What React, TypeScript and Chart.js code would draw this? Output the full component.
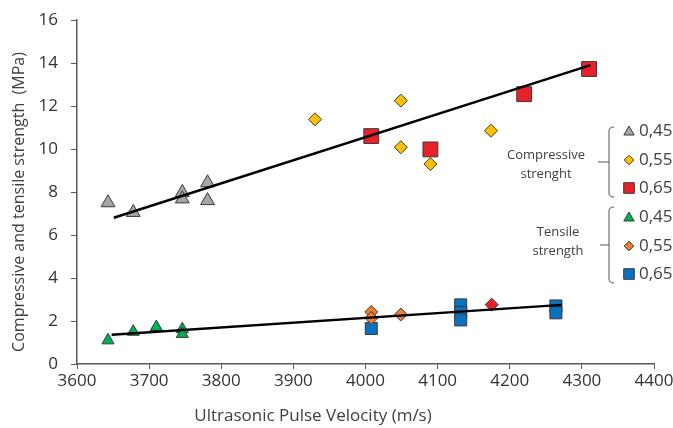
import { useEffect, useRef } from "react";
import { Chart, registerables } from "chart.js";
import { drawPoint } from "chart.js/helpers";

Chart.register(...registerables);

// ---- data ----
const compGrayX = [3643, 3678, 3746, 3746, 3781, 3781];
const compGrayY = [7.5, 7.05, 7.98, 7.68, 8.43, 7.6];
const compYellowX = [3930, 4049, 4049, 4090, 4174];
const compYellowY = [11.38, 12.25, 10.08, 9.3, 10.85];
const compRedX = [4008, 4090, 4220, 4310];
const compRedY = [10.6, 9.98, 12.55, 13.72];

const tensGreenX = [3643, 3678, 3710, 3746, 3746];
const tensGreenY = [1.1, 1.5, 1.72, 1.62, 1.4];
const tensOrangeX = [4008, 4008, 4049];
const tensOrangeY = [2.42, 2.14, 2.3];
const tensRedX = [4175];
const tensRedY = [2.76];
const tensBlueX = [4008, 4132, 4132, 4132, 4264, 4264];
const tensBlueY = [1.65, 2.75, 2.4, 2.05, 2.7, 2.38];

const compTrendX = [3651, 4312];
const compTrendY = [6.8, 13.9];
const tensTrendX = [3648, 4272];
const tensTrendY = [1.36, 2.75];

const xMin = 3600;
const xMax = 4400;
const xStep = 100;
const yMin = 0;
const yMax = 16;
const yStep = 2;

const xTitle = "Ultrasonic Pulse Velocity (m/s)";
const yTitle = "Compressive and tensile strength  (MPa)";
const groupLabels = [["Compressive", "strenght"], ["Tensile", "strength"]];
const legendLabels = ["0,45", "0,55", "0,65"];

const zip = (xs: number[], ys: number[]) => xs.map((x, i) => ({ x, y: ys[i] }));

const EDGE = "#3a3a3a";
const C_GRAY = "#a6a6a6";
const C_YELLOW = "#ffc000";
const C_RED = "#e8202a";
const C_GREEN = "#00b050";
const C_ORANGE = "#ed7d31";
const C_BLUE = "#0a70c0";
const TEXT = "#404040";
const AXIS = "#595959";
const FONT = '"Open Sans", sans-serif';

const legendGroups = [
  [
    { style: "triangle", color: C_GRAY, r: 6 },
    { style: "rectRot", color: C_YELLOW, r: 4.8 },
    { style: "rect", color: C_RED, r: 7.5 },
  ],
  [
    { style: "triangle", color: C_GREEN, r: 6 },
    { style: "rectRot", color: C_ORANGE, r: 4.8 },
    { style: "rect", color: C_BLUE, r: 7.5 },
  ],
];

const customPlugin = {
  id: "customDecor",
  afterDraw(chart: any) {
    const ctx = chart.ctx as CanvasRenderingContext2D;
    ctx.save();
    // axis titles
    ctx.fillStyle = TEXT;
    ctx.textAlign = "center";
    ctx.textBaseline = "middle";
    ctx.font = `17px ${FONT}`;
    ctx.fillText(xTitle, 313, 416);
    ctx.save();
    ctx.translate(19, 202);
    ctx.rotate(-Math.PI / 2);
    ctx.font = `16px ${FONT}`;
    ctx.fillText(yTitle, 0, 0);
    ctx.restore();

    // legend groups
    const groups = [
      { top: 127, bottom: 197, mid: 162, labelX: 546, labelY: [155, 174], rows: [131, 160, 188], tickX: 598 },
      { top: 207, bottom: 283, mid: 245, labelX: 558, labelY: [232, 251], rows: [217, 246, 274], tickX: 600 },
    ];
    const bx = 609;
    groups.forEach((g, gi) => {
      ctx.strokeStyle = "#555";
      ctx.lineWidth = 1;
      ctx.beginPath();
      ctx.moveTo(bx + 5, g.top);
      ctx.quadraticCurveTo(bx, g.top, bx, g.top + 4);
      ctx.lineTo(bx, g.bottom - 4);
      ctx.quadraticCurveTo(bx, g.bottom, bx + 5, g.bottom);
      ctx.moveTo(bx, g.mid);
      ctx.lineTo(g.tickX, g.mid);
      ctx.stroke();

      ctx.fillStyle = TEXT;
      ctx.font = `13px ${FONT}`;
      ctx.textAlign = "center";
      ctx.textBaseline = "middle";
      groupLabels[gi].forEach((t, i) => ctx.fillText(t, g.labelX, g.labelY[i]));

      legendGroups[gi].forEach((m, i) => {
        ctx.fillStyle = m.color;
        ctx.strokeStyle = EDGE;
        ctx.lineWidth = 1;
        drawPoint(ctx, { pointStyle: m.style as any, radius: m.r, rotation: 0, borderWidth: 1 }, 629, g.rows[i] + (m.style === "triangle" ? 1 : 0));
        ctx.fillStyle = TEXT;
        ctx.font = `17px ${FONT}`;
        ctx.textAlign = "left";
        ctx.fillText(legendLabels[i], 639, g.rows[i]);
      });
    });
    ctx.restore();
  },
};

export default function App() {
  const ref = useRef<HTMLCanvasElement | null>(null);
  useEffect(() => {
    document.body.style.margin = "0";
    const canvas = ref.current!;
    const pt = (style: string, color: string, r: number) => ({
      pointStyle: style,
      pointRadius: r,
      pointHoverRadius: r,
      backgroundColor: color,
      borderColor: EDGE,
      borderWidth: 1,
      showLine: false,
    });
    const trend = { showLine: true, pointRadius: 0, borderColor: "#000", borderWidth: 2.5, backgroundColor: "#000", fill: false };
    const chart = new Chart(canvas, {
      type: "scatter",
      data: {
        datasets: [
          { label: "trend c", data: zip(compTrendX, compTrendY), ...trend } as any,
          { label: "trend t", data: zip(tensTrendX, tensTrendY), ...trend } as any,
          { label: "C 0,45", data: zip(compGrayX, compGrayY), ...pt("triangle", C_GRAY, 8) },
          { label: "C 0,55", data: zip(compYellowX, compYellowY), ...pt("rectRot", C_YELLOW, 6.5) },
          { label: "C 0,65", data: zip(compRedX, compRedY), ...pt("rect", C_RED, 10.5) },
          { label: "T 0,45", data: zip(tensGreenX, tensGreenY), ...pt("triangle", C_GREEN, 7) },
          { label: "T 0,55", data: zip(tensOrangeX, tensOrangeY), ...pt("rectRot", C_ORANGE, 6.5) },
          { label: "T 0,55 r", data: zip(tensRedX, tensRedY), ...pt("rectRot", C_RED, 6.5) },
          { label: "T 0,65", data: zip(tensBlueX, tensBlueY), ...pt("rect", C_BLUE, 8.5) },
        ],
      },
      options: {
        animation: false,
        responsive: false,
        maintainAspectRatio: false,
        layout: { padding: { top: 20, right: 19, left: 0, bottom: 0 } },
        plugins: { legend: { display: false }, tooltip: { enabled: false } },
        scales: {
          x: {
            type: "linear",
            min: xMin,
            max: xMax,
            ticks: { stepSize: xStep, color: "#333", font: { family: FONT, size: 17 }, padding: 2, maxRotation: 0, callback: (v: any) => String(v) },
            grid: { display: true, drawOnChartArea: false, drawTicks: true, tickLength: 5, color: AXIS },
            border: { display: true, color: AXIS, width: 1.5 },
            afterFit: (s: any) => {
              s.height = 64;
              s.paddingLeft = 0;
              s.paddingRight = 0;
            },
          },
          y: {
            min: yMin,
            max: yMax,
            ticks: { stepSize: yStep, color: "#333", font: { family: FONT, size: 17 }, padding: 13, callback: (v: any) => String(v) },
            grid: { display: true, drawOnChartArea: false, drawTicks: true, tickLength: 6, color: AXIS },
            border: { display: true, color: AXIS, width: 1.5 },
            afterFit: (s: any) => {
              s.width = 77;
              s.paddingTop = 0;
              s.paddingBottom = 0;
            },
          },
        },
      },
      plugins: [customPlugin],
    });
    return () => chart.destroy();
  }, []);
  return <canvas ref={ref} width={673} height={428} style={{ display: "block" }} />;
}
